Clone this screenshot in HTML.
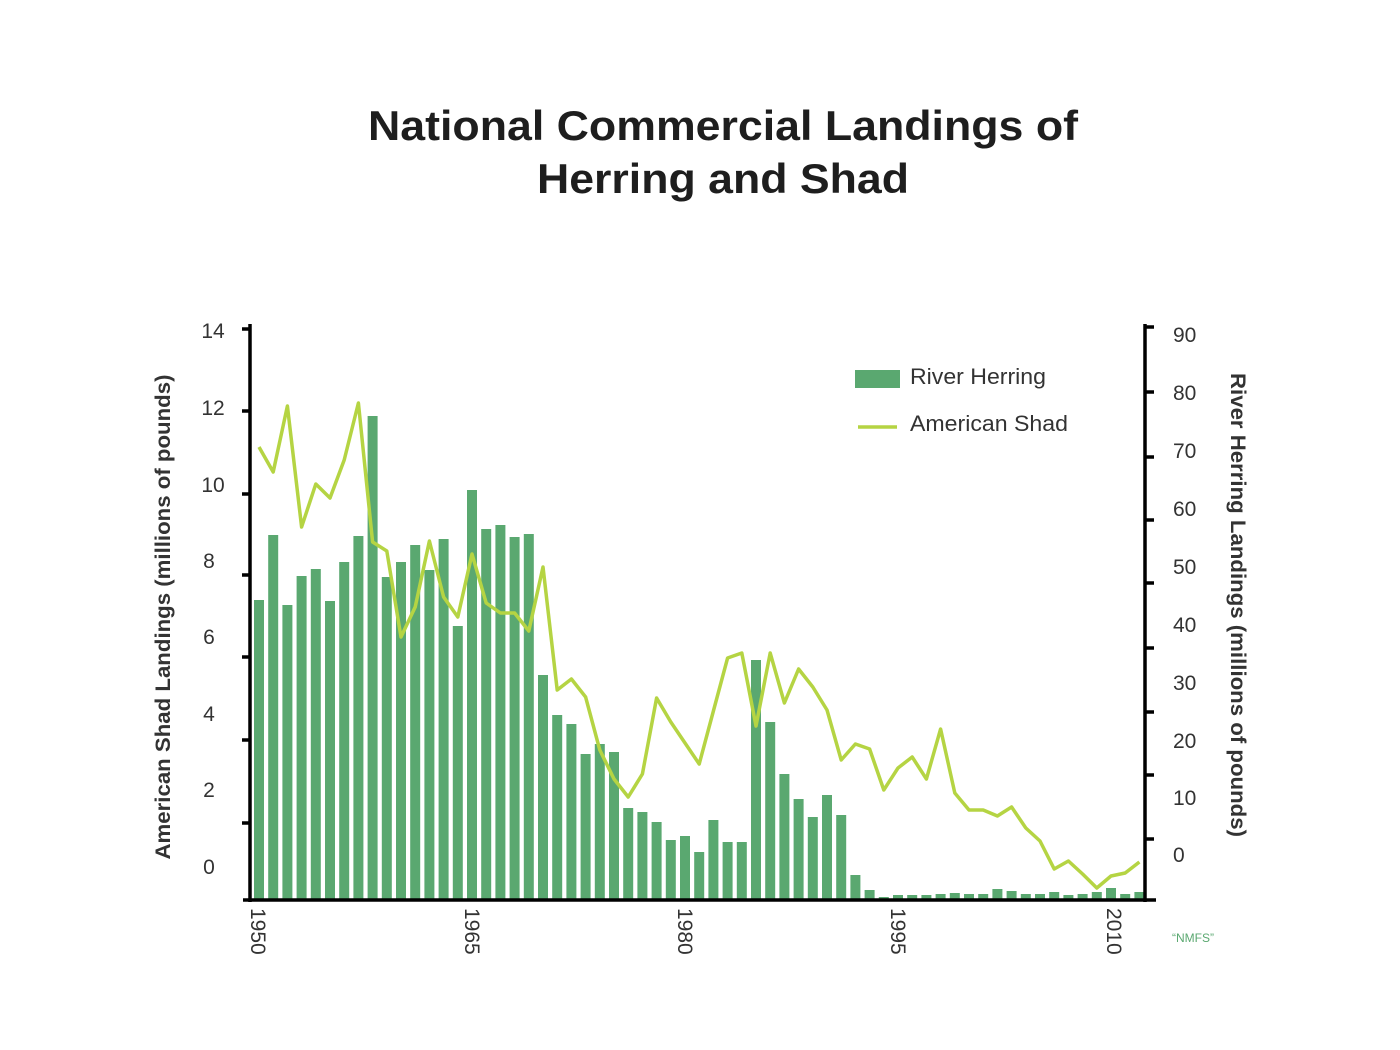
<!DOCTYPE html>
<html><head><meta charset="utf-8"><style>
html,body{margin:0;padding:0;background:#fff;}
svg{display:block;font-family:"Liberation Sans",sans-serif;}
</style></head><body>
<svg id="c" width="1400" height="1050" viewBox="0 0 1400 1050" xmlns="http://www.w3.org/2000/svg">
<rect width="1400" height="1050" fill="#fff"/>
<text x="723" y="140" text-anchor="middle" font-size="42" font-weight="bold" fill="#1e1e1e" textLength="710" lengthAdjust="spacingAndGlyphs">National Commercial Landings of</text>
<text x="723" y="193" text-anchor="middle" font-size="42" font-weight="bold" fill="#1e1e1e" textLength="372" lengthAdjust="spacingAndGlyphs">Herring and Shad</text>
<g id="bars" fill="#5aa870"></g>
<polyline id="line" fill="none" stroke="#b5d443" stroke-width="3.5" stroke-linejoin="round"/>
<g stroke="#000" stroke-width="3.5" fill="none">
<line x1="250" y1="324" x2="250" y2="902"/>
<line x1="243" y1="900" x2="1156" y2="900"/>
<line x1="1145" y1="324" x2="1145" y2="902"/>
</g>
<g id="ticks" stroke="#000" stroke-width="3.5"></g>
<g font-size="21" fill="#333" text-anchor="middle">
<text x="213" y="338">14</text><text x="213" y="415">12</text><text x="213" y="492">10</text>
<text x="209" y="568">8</text><text x="209" y="644">6</text><text x="209" y="721">4</text>
<text x="209" y="797">2</text><text x="209" y="874">0</text>
</g>
<g font-size="21" fill="#333" text-anchor="start">
<text x="1173" y="342">90</text><text x="1173" y="400">80</text><text x="1173" y="458">70</text>
<text x="1173" y="516">60</text><text x="1173" y="574">50</text><text x="1173" y="632">40</text>
<text x="1173" y="690">30</text><text x="1173" y="748">20</text><text x="1173" y="805">10</text>
<text x="1173" y="862">0</text>
</g>
<g font-size="21" fill="#333">
<text transform="translate(251,908) rotate(90)">1950</text>
<text transform="translate(465,908) rotate(90)">1965</text>
<text transform="translate(678,908) rotate(90)">1980</text>
<text transform="translate(891,908) rotate(90)">1995</text>
<text transform="translate(1107,908) rotate(90)">2010</text>
</g>
<text transform="translate(170,617) rotate(-90)" text-anchor="middle" font-size="21" font-weight="bold" fill="#333" textLength="485" lengthAdjust="spacingAndGlyphs">American Shad Landings (millions of pounds)</text>
<text transform="translate(1231,605) rotate(90)" text-anchor="middle" font-size="21" font-weight="bold" fill="#333" textLength="464" lengthAdjust="spacingAndGlyphs">River Herring Landings (millions of pounds)</text>
<rect x="855" y="370" width="45" height="18" fill="#5aa870"/>
<text x="910" y="384" font-size="22" fill="#333" textLength="136" lengthAdjust="spacingAndGlyphs">River Herring</text>
<line x1="858" y1="427" x2="897" y2="427" stroke="#b5d443" stroke-width="3.5"/>
<text x="910" y="431" font-size="22" fill="#333" textLength="158" lengthAdjust="spacingAndGlyphs">American Shad</text>
<text x="1193" y="942" text-anchor="middle" font-size="12" fill="#5aa870">“NMFS”</text>
</svg>
<script>
var NS="http://www.w3.org/2000/svg";
var bt=[600,535,605,576,569,601,562,536,416,577,562,545,570,539,626,490,529,525,537,534,675,715,724,754,744,752,808,812,822,840,836,852,820,842,842,660,722,774,799,817,795,815,875,890,897,895,895,895,894,893,894,894,889,891,894,894,892,895,894,892,888,894,892];
var ly=[447,472,406,527,484,498,460,403,542,551,637,607,541,597,617,554,603,613,613,631,567,690,679,697,750,779,797,774,698,722,743,764,711,658,653,726,653,703,669,687,710,760,744,749,790,768,757,779,729,793,810,810,816,807,828,841,869,861,874,888,876,873,862];
var g=document.getElementById("bars"),pts=[];
for(var i=0;i<63;i++){var cx=259+14.2*i;var r=document.createElementNS(NS,"rect");
r.setAttribute("x",cx-5);r.setAttribute("y",bt[i]);r.setAttribute("width",10);r.setAttribute("height",900-bt[i]);g.appendChild(r);
pts.push(cx.toFixed(1)+","+ly[i]);}
document.getElementById("line").setAttribute("points",pts.join(" "));
var t=document.getElementById("ticks");
[329,411,494,575,657,740,823].forEach(function(y){var l=document.createElementNS(NS,"line");l.setAttribute("x1",242);l.setAttribute("x2",250);l.setAttribute("y1",y);l.setAttribute("y2",y);t.appendChild(l);});
[327,392,457,520,583,648,712,775,839].forEach(function(y){var l=document.createElementNS(NS,"line");l.setAttribute("x1",1145);l.setAttribute("x2",1154);l.setAttribute("y1",y);l.setAttribute("y2",y);t.appendChild(l);});
</script>
</body></html>
